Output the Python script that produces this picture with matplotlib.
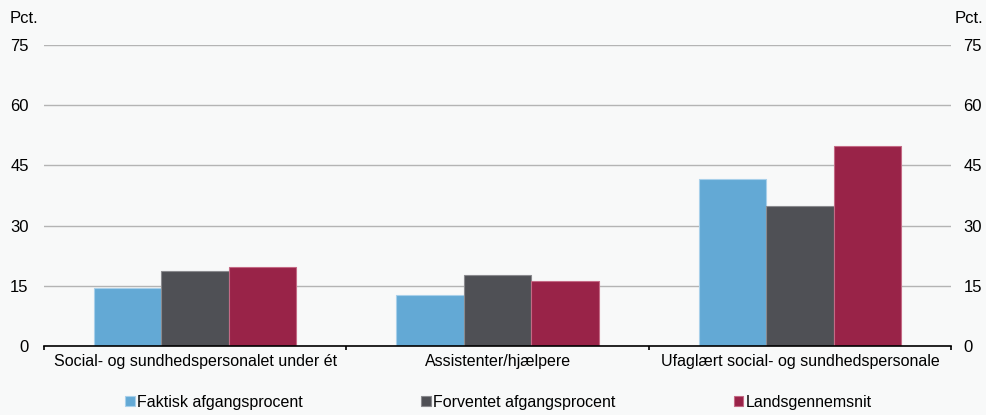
import numpy as np
import matplotlib.pyplot as plt

plt.rcParams['font.family'] = ['Liberation Sans', 'DejaVu Sans']

categories = ['Social- og sundhedspersonalet under ét', 'Assistenter/hjælpere',
              'Ufaglært social- og sundhedspersonale']
series_names = ['Faktisk afgangsprocent', 'Forventet afgangsprocent', 'Landsgennemsnit']
faktisk = [14.4, 12.6, 41.6]
forventet = [18.8, 17.6, 34.8]
landsgns = [19.7, 16.3, 49.9]
yticks = [0, 15, 30, 45, 60, 75]

colors = ['#63a9d5', '#4f5055', '#992348']
edges = ['#a8d0ea', '#8a8a8e', '#c46a85']
bg = '#f8f9f9'

fig = plt.figure(figsize=(9.87, 4.15), dpi=100, facecolor=bg)
ax = fig.add_axes([0.0446, 0.1663, 0.919, 0.7253], facecolor=bg)

x = np.arange(len(categories))
w = 0.223
for i, vals in enumerate([faktisk, forventet, landsgns]):
    ax.bar(x + (i - 1) * w, vals, w, color=colors[i], edgecolor=edges[i],
           linewidth=0.8, label=series_names[i], zorder=3)

ax.set_xlim(-0.5, 2.5)
ax.set_ylim(0, 75)
ax.set_yticks(yticks)
ax.grid(axis='y', color='#b4b4b4', linewidth=1, zorder=0)
ax.tick_params(axis='y', length=0, labelsize=12, pad=11)

# right-hand axis labels
ax2 = ax.twinx()
ax2.set_ylim(0, 75)
ax2.set_yticks(yticks)
ax2.tick_params(axis='y', length=0, labelsize=12, pad=9)
for s in ['top', 'left', 'right', 'bottom']:
    ax2.spines[s].set_visible(False)

ax.set_xticks(x)
ax.set_xticklabels(categories, fontsize=11.5)
ax.tick_params(axis='x', length=0, pad=6)
ax.set_xticks([-0.5, 0.5, 1.5, 2.5], minor=True)
ax.tick_params(axis='x', which='minor', length=3, width=1.2, color='black', direction='out')
for s in ['top', 'left', 'right']:
    ax.spines[s].set_visible(False)
ax.spines['bottom'].set_color('black')
ax.spines['bottom'].set_linewidth(1.2)
ax.spines['bottom'].set_zorder(4)

fig.text(0.010, 0.955, 'Pct.', fontsize=12, ha='left', va='center')
fig.text(0.996, 0.955, 'Pct.', fontsize=12, ha='right', va='center')

fig.legend(loc='center', bbox_to_anchor=(0.505, 0.03), ncol=3, frameon=False,
           fontsize=11.5, handlelength=0.6, handleheight=0.6, handletextpad=0.15,
           columnspacing=7.4)

fig.savefig('out.png', dpi=100, facecolor=bg)
